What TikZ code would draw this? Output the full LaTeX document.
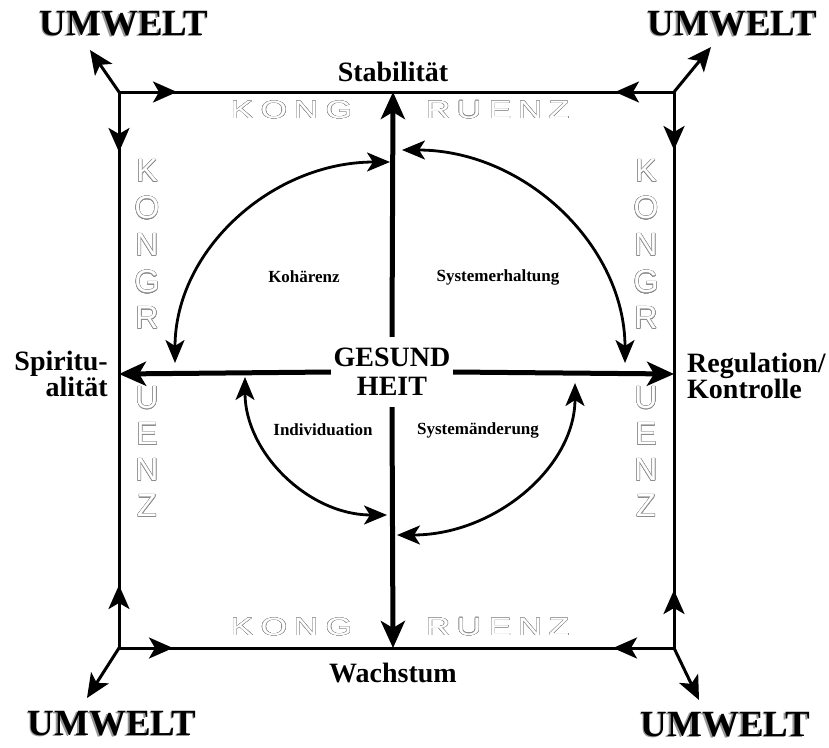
\documentclass[tikz,border=0pt]{standalone}
\usepackage{fontspec}
\setmainfont{Liberation Serif}
\newfontfamily\hollowfont{Liberation Sans}
\usepackage{contour}
\contourlength{0.35pt}
\contournumber{24}
\usetikzlibrary{arrows.meta}
\newcommand\shadowtxt[1]{\makebox[0pt][l]{\hspace{-1.2pt}\raisebox{-1.4pt}{\color{black!40}#1}}#1}
\newcommand\hollow[1]{{\color{white}\contour{black!45}{#1}}}
\tikzset{
  ftip/.tip={Stealth[length=24pt,width=21pt,inset=6pt]},
  atip/.tip={Stealth[length=27pt,width=24pt,inset=7pt]},
  ctip/.tip={Stealth[length=23pt,width=19pt,inset=6pt]},
  frameline/.style={line width=3pt},
  framearrow/.style={line width=3pt,-ftip},
  axisarrow/.style={line width=5pt,-atip},
  arcarrow/.style={line width=2.8pt,ctip-ctip},
  biglabel/.style={font=\fontsize{28}{22}\selectfont\bfseries,inner sep=0pt},
  umwlabel/.style={font=\fontsize{37}{37}\selectfont\bfseries,inner sep=0pt},
  smalllabel/.style={font=\fontsize{17}{19}\selectfont\bfseries,inner sep=0pt},
  hletter/.style={font=\hollowfont\fontsize{25}{25}\selectfont,xscale=1.35,inner sep=0pt},
  vletter/.style={font=\hollowfont\fontsize{32}{32}\selectfont,inner sep=0pt},
}
\begin{document}
\begin{tikzpicture}[x=1pt,y=-1pt]
\useasboundingbox (0,0) rectangle (829,747);
% corners
\coordinate (TL) at (119,92);
\coordinate (TR) at (674,92);
\coordinate (BR) at (674,648);
\coordinate (BL) at (119,648);
\coordinate (N) at (393,92);
\coordinate (S) at (393,648);
\coordinate (W) at (119,374);
\coordinate (E) at (674,374);
% hollow letters KONGRUENZ
\foreach \l/\x [count=\i] in {K/242,O/274,N/306,G/339,R/438,U/469,E/500,N/530,Z/559}{
  \node[hletter] (kt\i) at (\x,110) {\hollow{\l}};
  \node[hletter] (kb\i) at (\x,627) {\hollow{\l}};
}
\foreach \l/\y [count=\i] in {K/171,O/208,N/245,G/282,R/318,U/398,E/434,N/470,Z/506}{
  \node[vletter] (kl\i) at (147,\y) {\hollow{\l}};
  \node[vletter] (kr\i) at (646,\y) {\hollow{\l}};
}
% frame
\draw[frameline] (TL) -- (TR) -- (BR) -- (BL) -- cycle;
\draw[framearrow] (TL) -- +(58,0);
\draw[framearrow] (TL) -- +(0,60);
\draw[framearrow] (TR) -- +(-59,0);
\draw[framearrow] (TR) -- +(0,58);
\draw[framearrow] (BL) -- +(0,-63);
\draw[framearrow] (BL) -- +(54,0);
\draw[framearrow] (BR) -- +(0,-58);
\draw[framearrow] (BR) -- +(-61,0);
% Umwelt
\coordinate (dTL) at (90,50);
\coordinate (dTR) at (711,47);
\coordinate (dBL) at (87,698);
\coordinate (dBR) at (699,700);
\draw[framearrow] (TL) -- (dTL);
\draw[framearrow] (TR) -- (dTR);
\draw[framearrow] (BL) -- (dBL);
\draw[framearrow] (BR) -- (dBR);
\node[umwlabel] (u1) at (124,24) {\shadowtxt{UMWELT}};
\node[umwlabel] (u2) at (732,24) {\shadowtxt{UMWELT}};
\node[umwlabel] (u3) at (112,724) {\shadowtxt{UMWELT}};
\node[umwlabel] (u4) at (725,725) {\shadowtxt{UMWELT}};
% center
\node[minimum width=122pt,minimum height=70pt,inner sep=0pt,align=center,
      font=\fontsize{28}{29}\selectfont\bfseries] (g) at (392,372) {GESUND\\HEIT};
\draw[axisarrow] (g.north) -- (N);
\draw[axisarrow] (g.south) -- (S);
\draw[axisarrow] (g.west) -- (W);
\draw[axisarrow] (g.east) -- (E);
% pole labels
\node[biglabel] (stab) at (393,72) {Stabilität};
\node[biglabel] (wach) at (393,673) {Wachstum};
\node[biglabel,align=right,anchor=east] (spir) at (108,374) {Spiritu-\\alität};
\node[biglabel,align=left,anchor=west] (reg) at (687,376) {Regulation/\\Kontrolle};
% arcs
\coordinate (a1s) at (175,363); \coordinate (a1e) at (390,162);
\coordinate (a2s) at (402,150); \coordinate (a2e) at (625,363);
\coordinate (a3s) at (245,377); \coordinate (a3e) at (387,515);
\coordinate (a4s) at (575,383); \coordinate (a4e) at (397,535);
\draw[arcarrow] (a1s) .. controls (175,250) and (272,162) .. (a1e);
\draw[arcarrow] (a2s) .. controls (525,150) and (625,246) .. (a2e);
\draw[arcarrow] (a3s) .. controls (245,453) and (309,515) .. (a3e);
\draw[arcarrow] (a4s) .. controls (575,467) and (495,535) .. (a4e);
\node[smalllabel] (koh) at (304,277) {Kohärenz};
\node[smalllabel] (sys) at (498,277) {Systemerhaltung};
\node[smalllabel] (ind) at (323,430) {Individuation};
\node[smalllabel] (sysa) at (478,430) {Systemänderung};
\end{tikzpicture}
\end{document}
